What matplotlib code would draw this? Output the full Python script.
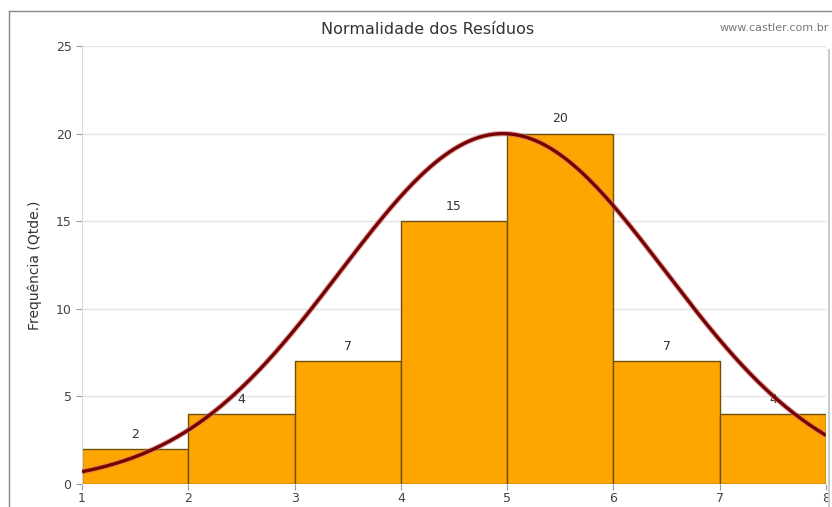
import numpy as np
import matplotlib
matplotlib.use("Agg")
import matplotlib.pyplot as plt
import matplotlib.patheffects as pe
from matplotlib.lines import Line2D

# histogram data
bin_edges = [1, 2, 3, 4, 5, 6, 7, 8]
frequencies = [2, 4, 7, 15, 20, 7, 4]

# fitted normal overlay
NORMAL_MEAN = 4.96
NORMAL_SD = 1.53
NORMAL_PEAK = 20.0

y_ticks = [0, 5, 10, 15, 20, 25]

fig = plt.figure(figsize=(8.32, 5.07), dpi=100)
W, H = 832, 507


def fx(px):
    return px / W


def fy(py):
    return 1 - py / H


ax = fig.add_axes([fx(82), fy(484), fx(826) - fx(82), fy(46) - fy(484)])

lefts = bin_edges[:-1]
widths = np.diff(bin_edges)
ax.bar(lefts, frequencies, width=widths, align="edge", color="#ffa500",
       edgecolor="#6e5010", linewidth=1.0, zorder=2)

for x, w, v in zip(lefts, widths, frequencies):
    ax.annotate(str(v), (x + w / 2, v), xytext=(0, 6), textcoords="offset points",
                ha="center", va="bottom", fontsize=9, color="#333333", zorder=3)

xs = np.linspace(bin_edges[0], bin_edges[-1], 300)
ys = NORMAL_PEAK * np.exp(-((xs - NORMAL_MEAN) ** 2) / (2 * NORMAL_SD ** 2))
ax.plot(xs, ys, color="#780000", linewidth=2.4, zorder=4, solid_capstyle="butt",
        path_effects=[pe.Stroke(linewidth=4.0, foreground="#c87878", alpha=0.6), pe.Normal()])

ax.set_xlim(bin_edges[0], bin_edges[-1])
ax.set_ylim(0, 25)
ax.set_xticks(bin_edges)
ax.set_yticks(y_ticks)
ax.grid(axis="y", color="#e4e4e4", linewidth=1.0, zorder=0)
ax.set_axisbelow(True)
for side in ("top", "right", "bottom"):
    ax.spines[side].set_visible(False)
ax.spines["left"].set_color("#d8d8d8")
ax.tick_params(axis="both", colors="#999999", labelcolor="#444444", labelsize=9,
               length=4, width=0.8)
ax.tick_params(axis="x", pad=2)
ax.set_ylabel("Frequência (Qtde.)", fontsize=10, color="#333333", labelpad=10)

fig.text(fx(428), fy(30), "Normalidade dos Resíduos", ha="center", va="center",
         fontsize=11.5, color="#333333")
fig.text(fx(829), fy(28), "www.castler.com.br", ha="right", va="center",
         fontsize=8, color="#777777")

# outer frame of the original chart
fig.add_artist(Line2D([fx(9), 1], [fy(11), fy(11)], color="#888888", linewidth=1.0))
fig.add_artist(Line2D([fx(9), fx(9)], [fy(11), 0], color="#888888", linewidth=1.0))
fig.add_artist(Line2D([fx(829), fx(829)], [fy(50), 0], color="#cccccc", linewidth=1.5))

fig.savefig("out.png", dpi=100)
